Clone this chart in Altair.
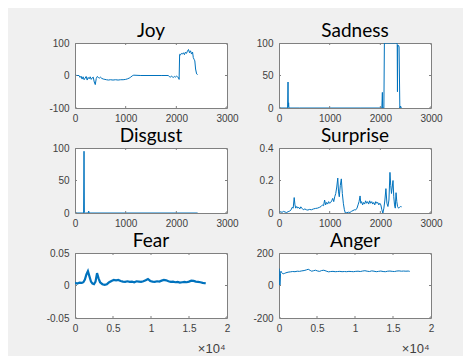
import altair as alt
import pandas as pd

# ---------------- data ----------------
titles = ["Joy", "Sadness", "Disgust", "Surprise", "Fear", "Anger"]

joy_x = [0, 40, 80, 100, 120, 140, 160, 180, 200, 220, 240, 260, 280, 300, 320, 340, 360, 380, 400,
         420, 440, 460, 480, 500, 530, 560, 590, 620, 660, 700, 750, 800, 850, 900, 950, 1000, 1040,
         1070, 1100, 1130, 1160, 1300, 1500, 1700, 1840, 1860, 1880, 1900, 1920, 1940, 1960, 1980,
         2000, 2020, 2040, 2055, 2065, 2080, 2100, 2120, 2140, 2160, 2180, 2200, 2220, 2240, 2260,
         2280, 2300, 2320, 2335, 2350, 2365, 2380, 2400, 2420]
joy_y = [1, 0, 0, -6, -2, -11, -4, -13, -8, -3, -14, -6, -10, -4, -12, -7, -5, -20, -28,
         -9, -3, -6, -8, -5, -9, -11, -12, -13, -14, -13, -14, -13, -14, -13, -13, -12, -10,
         -8, -5, -1, 1, 0, 0, 0, 0, -3, -5, -2, -4, -6, -3, -5,
         -2, -4, -6, -12, 65, 63, 68, 66, 70, 64, 72, 68, 75, 80, 70,
         76, 66, 72, 55, 50, 45, 20, 5, 3]

sad_x = [0, 170, 178, 183, 190, 195, 400, 1000, 1600, 2030, 2040, 2046, 2070, 2080, 2200, 2300,
         2325, 2333, 2338, 2343, 2350, 2360, 2370, 2385, 2400, 2410, 2420]
sad_y = [0, 0, 40, 2, 8, 0, 0, 0, 0, 0, 24, 0, 0, 100, 100, 100,
         100, 98, 25, 97, 95, 96, 94, 0, 3, 0, 0]

dis_x = [0, 170, 178, 185, 200, 260, 270, 280, 1000, 2000, 2420]
dis_y = [0, 0, 95, 1, 0, 0, 3, 0, 0, 0, 0]

sur_x = [0, 30, 60, 90, 120, 150, 180, 210, 240, 260, 280, 300, 315, 330, 350, 370, 390, 410,
         430, 450, 480, 510, 540, 570, 600, 640, 680, 720, 760, 800, 830, 860, 880, 900, 920,
         940, 960, 980, 1000, 1020, 1040, 1060, 1080, 1100, 1120, 1140, 1160, 1175, 1190, 1210,
         1230, 1250, 1270, 1290, 1310, 1340, 1370, 1400, 1430, 1460, 1490, 1510, 1540, 1560,
         1580, 1600, 1615, 1630, 1650, 1670, 1690, 1710, 1730, 1750, 1770, 1790, 1810, 1830,
         1850, 1870, 1890, 1910, 1930, 1950, 1970, 1990, 2010, 2030, 2050, 2070, 2090, 2110,
         2130, 2150, 2170, 2190, 2205, 2220, 2235, 2250, 2265, 2280, 2295, 2310, 2325, 2340,
         2360, 2380, 2400, 2420]
sur_y = [0.005, 0.008, 0.004, 0.01, 0.006, 0.003, 0.008, 0.012, 0.02, 0.035, 0.03, 0.095, 0.05,
         0.03, 0.04, 0.03, 0.035, 0.025, 0.038, 0.03, 0.02, 0.025, 0.02, 0.018, 0.022, 0.02,
         0.025, 0.028, 0.03, 0.035, 0.04, 0.05, 0.045, 0.08, 0.05, 0.065, 0.055, 0.07, 0.06,
         0.065, 0.075, 0.09, 0.07, 0.1, 0.12, 0.16, 0.215, 0.13, 0.1, 0.17, 0.21, 0.12, 0.06,
         0.02, 0.0, 0.002, 0.005, 0.003, 0.01, 0.015, 0.02, 0.018, 0.03, 0.05, 0.07, 0.105,
         0.06, 0.07, 0.05, 0.065, 0.055, 0.075, 0.06, 0.07, 0.055, 0.075, 0.06, 0.07, 0.055,
         0.065, 0.05, 0.07, 0.06, 0.065, 0.05, 0.06, 0.05, 0.02, 0.0, 0.03, 0.08, 0.15, 0.06,
         0.04, 0.08, 0.25, 0.17, 0.12, 0.16, 0.2, 0.1, 0.05, 0.03, 0.125, 0.07, 0.04, 0.03,
         0.035, 0.04, 0.038]

fear_x = [0, 300, 600, 900, 1100, 1300, 1500, 1700, 1900, 2100, 2300, 2500, 2700, 2900, 3100,
          3300, 3600, 3900, 4200, 4500, 4800, 5100, 5400, 5700, 6000, 6300, 6600, 6900, 7200,
          7500, 7800, 8100, 8400, 8700, 9000, 9300, 9600, 9900, 10200, 10500, 10800, 11100,
          11400, 11700, 12000, 12300, 12600, 12900, 13200, 13500, 13800, 14100, 14400, 14700,
          15000, 15300, 15600, 15900, 16200, 16500, 16800, 17100, 17200]
fear_y = [0.004, 0.003, 0.0045, 0.004, 0.005, 0.009, 0.017, 0.022, 0.014, 0.006, 0.003, 0.002,
          0.006, 0.019, 0.011, 0.005, 0.002, 0.001, 0.002, 0.005, 0.007, 0.0085, 0.008, 0.0085,
          0.007, 0.006, 0.0055, 0.0065, 0.0055, 0.006, 0.005, 0.0065, 0.006, 0.0055, 0.0065,
          0.008, 0.01, 0.007, 0.006, 0.0055, 0.0065, 0.006, 0.0075, 0.0085, 0.008, 0.0065,
          0.0055, 0.006, 0.005, 0.0055, 0.0045, 0.005, 0.0055, 0.005, 0.006, 0.0075, 0.007,
          0.006, 0.0055, 0.005, 0.004, 0.0035, 0.003]

ang_x = [0, 40, 60, 150, 200, 260, 350, 450, 550, 700, 900, 1200, 1500, 1800, 2100, 2400, 2700,
         3000, 3300, 3600, 3850, 4100, 4300, 4550, 4800, 5100, 5350, 5600, 5900, 6200, 6500,
         6800, 7100, 7400, 7700, 8000, 8300, 8600, 8900, 9200, 9500, 9800, 10100, 10400, 10700,
         11000, 11300, 11600, 11900, 12200, 12500, 12800, 13100, 13400, 13700, 14000, 14300,
         14600, 14900, 15200, 15500, 15800, 16100, 16400, 16700, 17000, 17200]
ang_y = [105, 95, 0, 2, 75, 88, 80, 74, 72, 74, 78, 82, 84, 86, 85, 88, 87,
         90, 92, 96, 100, 93, 88, 91, 94, 89, 87, 92, 94, 89, 84,
         86, 87, 85, 86, 87, 85, 86, 85, 87, 86, 85, 87, 88, 86,
         89, 91, 88, 86, 90, 88, 85, 87, 89, 86, 85, 88,
         89, 87, 86, 89, 90, 88, 89, 88, 89, 87]

x_ticks_a = [0, 1000, 2000, 3000]
x_ticks_b = [0, 5000, 10000, 15000, 20000]
y_ticks = {
    "Joy": [-100, 0, 100],
    "Sadness": [0, 50, 100],
    "Disgust": [0, 50, 100],
    "Surprise": [0, 0.2, 0.4],
    "Fear": [-0.05, 0, 0.05],
    "Anger": [-200, 0, 200],
}

# ---------------- styling ----------------
LINE = "#0072BD"
FRAME = "#808080"
LABEL = "#404040"
W, H = 152, 65


def panel(title, xs, ys, xticks, yticks, sw=1.0, scaled=False):
    xdom = [xticks[0], xticks[-1]]
    ydom = [yticks[0], yticks[-1]]
    xsc = alt.Scale(domain=xdom, nice=False, zero=False)
    ysc = alt.Scale(domain=ydom, nice=False, zero=False)
    xaxis_kw = dict(values=xticks, labelFlush=False, labelOverlap=False)
    if scaled:
        xaxis_kw.update(labelExpr="'' + datum.value / 10000", title="×10⁴",
                        titleAnchor="end", titleAlign="right", titleX=W - 2, titleY=34,
                        titleBaseline="alphabetic", titleFontSize=13)
    else:
        xaxis_kw.update(labelExpr="'' + datum.value", title=None)
    xaxis = alt.Axis(**xaxis_kw)
    yaxis = alt.Axis(values=yticks, labelExpr="'' + datum.value", title=None,
                     labelOverlap=False, labelFlush=False)

    def enc(ch):
        return ch.encode(
            x=alt.X("x:Q", scale=xsc, axis=xaxis),
            y=alt.Y("y:Q", scale=ysc, axis=yaxis),
        )

    df = pd.DataFrame({"x": xs, "y": ys})
    line = enc(alt.Chart(df).mark_line(color=LINE, strokeWidth=sw, clip=True))
    xt = pd.DataFrame({"x": xticks * 2,
                       "y": [ydom[0]] * len(xticks) + [ydom[1]] * len(xticks)})
    yt = pd.DataFrame({"x": [xdom[0]] * len(yticks) + [xdom[1]] * len(yticks),
                       "y": yticks * 2})
    tx = enc(alt.Chart(xt).mark_tick(orient="vertical", size=4, thickness=1, color=FRAME,
                                     clip=True, opacity=1))
    ty = enc(alt.Chart(yt).mark_tick(orient="horizontal", size=4, thickness=1, color=FRAME,
                                     clip=True, opacity=1))
    return alt.layer(line, tx, ty).properties(
        width=W, height=H,
        title=alt.TitleParams(title, font="Lato", fontSize=19, fontWeight="normal",
                              color="black", baseline="alphabetic", offset=-18,
                              anchor="middle", frame="group"),
    )


panels = [
    panel("Joy", joy_x, joy_y, x_ticks_a, y_ticks["Joy"]),
    panel("Sadness", sad_x, sad_y, x_ticks_a, y_ticks["Sadness"]),
    panel("Disgust", dis_x, dis_y, x_ticks_a, y_ticks["Disgust"]),
    panel("Surprise", sur_x, sur_y, x_ticks_a, y_ticks["Surprise"]),
    panel("Fear", fear_x, fear_y, x_ticks_b, y_ticks["Fear"], sw=2.2, scaled=True),
    panel("Anger", ang_x, ang_y, x_ticks_b, y_ticks["Anger"], scaled=True),
]

chart = alt.concat(
    *panels, columns=2, spacing={"row": 40, "column": 52}, bounds="flush",
    padding={"left": 37, "top": 13, "right": 20, "bottom": 0},
    background="#f0f0f0",
).configure_view(
    stroke=FRAME, strokeWidth=1, fill="white"
).configure_axis(
    labelFont="Liberation Sans", labelFontSize=10, labelColor=LABEL,
    domain=False, ticks=False, grid=False,
    titleFont="Liberation Sans", titleFontSize=11, titleColor=LABEL, titleFontWeight="normal",
).configure_axisX(labelPadding=5).configure_axisY(labelPadding=6)

chart.save("out.html", embed_options={"renderer": "svg", "actions": False})
